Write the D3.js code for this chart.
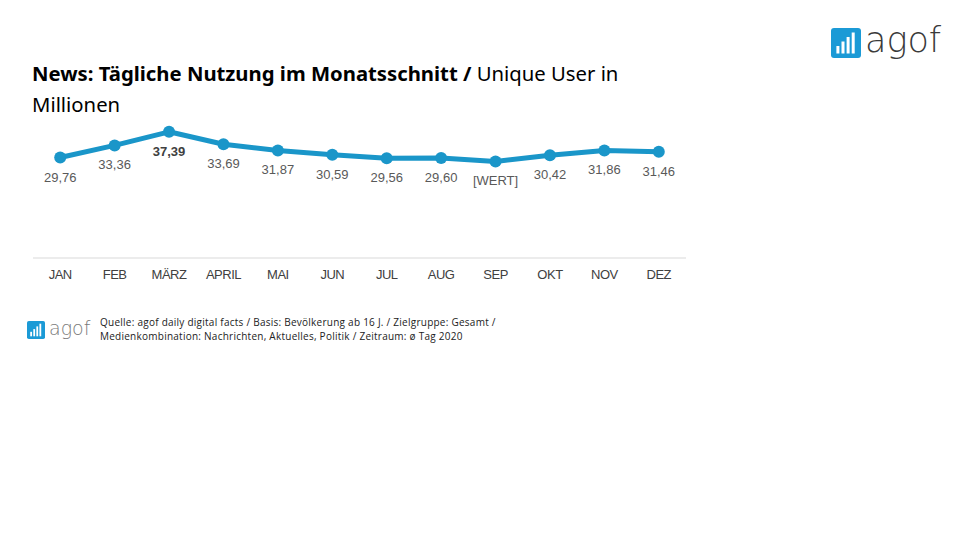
<!DOCTYPE html>
<html>
<head>
<meta charset="utf-8">
<script src="https://cdn.jsdelivr.net/npm/d3@7"></script>
<style>
  body { margin: 0; background: #fff; }
  svg { display: block; }
</style>
</head>
<body>
<div id="chart"></div>
<script>
// data (SEP is a "[WERT]" placeholder, value estimated)
var months = ["JAN", "FEB", "MÄRZ", "APRIL", "MAI", "JUN", "JUL", "AUG", "SEP", "OKT", "NOV", "DEZ"];
var users = [29.76, 33.36, 37.39, 33.69, 31.87, 30.59, 29.56, 29.60, 28.6, 30.42, 31.86, 31.46];
var valueLabels = ["29,76", "33,36", "37,39", "33,69", "31,87", "30,59", "29,56", "29,60", "[WERT]", "30,42", "31,86", "31,46"];
var yDomain = [0, 40];

var W = 960, H = 540;
var blue = "#1a96c9";

var svg = d3.select("#chart").append("svg")
    .attr("width", W)
    .attr("height", H);

var x = d3.scaleBand()
    .domain(months)
    .range([33, 686]);

var y = d3.scaleLinear()
    .domain(yDomain)
    .range([258, 123]);

// title
var title = svg.append("text")
    .attr("x", 32)
    .attr("y", 81)
    .style("font-family", "'Noto Sans', 'Open Sans', sans-serif")
    .style("font-size", "20.3px")
    .style("fill", "#000");
title.append("tspan").style("font-weight", "bold").text("News: Tägliche Nutzung im Monatsschnitt / ");
title.append("tspan").text("Unique User in");
svg.append("text")
    .attr("x", 32)
    .attr("y", 112)
    .style("font-family", "'Noto Sans', 'Open Sans', sans-serif")
    .style("font-size", "20.3px")
    .text("Millionen");

// logo helper
function logo(g, s, textSize, textColor, gap) {
  g.append("rect")
      .attr("width", s).attr("height", s)
      .attr("rx", s * 0.1)
      .attr("fill", "#1b9ad6");
  var bars = [0.25, 0.4, 0.55, 0.7];
  g.selectAll(".lb").data(bars).enter().append("rect")
      .attr("x", function(d, i) { return s * (0.18 + i * 0.17); })
      .attr("y", function(d) { return s * (0.85 - d); })
      .attr("width", s * 0.1)
      .attr("height", function(d) { return s * d; })
      .attr("fill", "#fff");
  g.append("text")
      .attr("x", s + gap)
      .attr("y", s * 0.8)
      .style("font-family", "'DejaVu Sans', sans-serif")
      .style("font-weight", "200")
      .style("font-size", textSize + "px")
      .style("fill", textColor)
      .text("agof");
}

logo(svg.append("g").attr("transform", "translate(831,28)"), 30, 35, "#3a3a3a", 4);
logo(svg.append("g").attr("transform", "translate(27,321)"), 18, 19, "#7a7a7a", 4);

// axis line
svg.append("line")
    .attr("x1", 33).attr("x2", 686)
    .attr("y1", 258).attr("y2", 258)
    .attr("stroke", "#d9d9d9")
    .attr("stroke-width", 1);

var xAxis = d3.axisBottom(x).tickSize(0).tickPadding(0);
var gx = svg.append("g")
    .attr("transform", "translate(0,270)")
    .call(xAxis);
gx.select(".domain").remove();
gx.selectAll("text")
    .attr("dy", "0.71em")
    .style("font-family", "'Liberation Sans', Arial, sans-serif")
    .style("font-size", "13px")
    .style("letter-spacing", "-0.5px")
    .style("fill", "#404040");

var cx = function(d, i) { return x(months[i]) + x.bandwidth() / 2; };

var line = d3.line()
    .x(function(d, i) { return cx(d, i); })
    .y(function(d) { return y(d); });

svg.append("path")
    .datum(users)
    .attr("d", line)
    .attr("fill", "none")
    .attr("stroke", blue)
    .attr("stroke-width", 5)
    .attr("stroke-linejoin", "round");

svg.selectAll(".dot")
    .data(users)
  .enter().append("circle")
    .attr("class", "dot")
    .attr("cx", cx)
    .attr("cy", function(d) { return y(d); })
    .attr("r", 6)
    .attr("fill", blue);

svg.selectAll(".val")
    .data(users)
  .enter().append("text")
    .attr("class", "val")
    .attr("x", cx)
    .attr("y", function(d) { return y(d) + 24; })
    .attr("text-anchor", "middle")
    .style("font-family", "'Liberation Sans', Arial, sans-serif")
    .style("font-size", "13px")
    .style("font-weight", function(d, i) { return i === 2 ? "bold" : "normal"; })
    .style("fill", function(d, i) { return i === 2 ? "#404040" : "#595959"; })
    .text(function(d, i) { return valueLabels[i]; });

// source note
var src = svg.append("text")
    .attr("x", 100)
    .attr("y", 326)
    .style("font-family", "'Open Sans', 'Noto Sans', sans-serif")
    .style("font-size", "10px")
    .style("letter-spacing", "0.25px")
    .style("fill", "#222");
src.append("tspan").text("Quelle: agof daily digital facts / Basis: Bevölkerung ab 16 J. / Zielgruppe: Gesamt /");
src.append("tspan").attr("x", 100).attr("dy", 14).text("Medienkombination: Nachrichten, Aktuelles, Politik / Zeitraum: ø Tag 2020");
</script>
</body>
</html>
